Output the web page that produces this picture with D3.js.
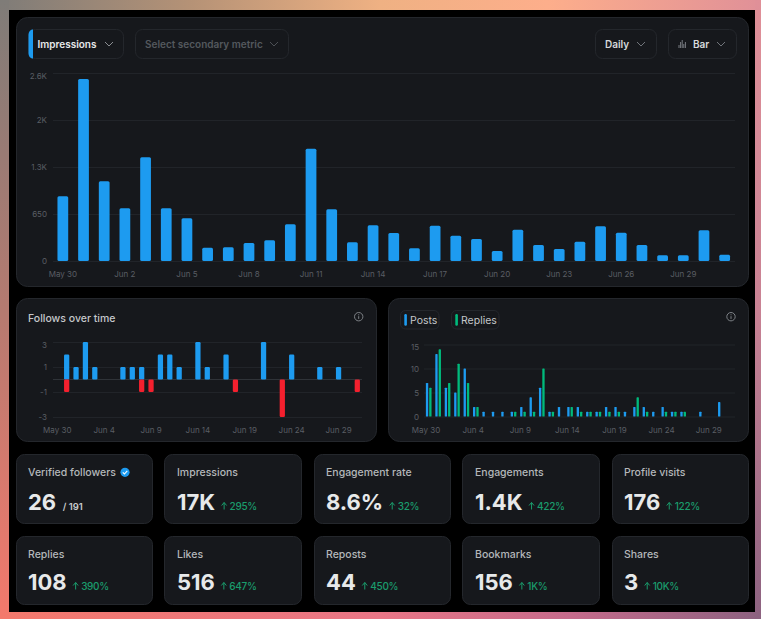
<!DOCTYPE html>
<html>
<head>
<meta charset="utf-8">
<script src="https://cdn.jsdelivr.net/npm/d3@7"></script>
<style>
  html, body { margin: 0; padding: 0; background: #000; overflow: hidden; }
  svg { display: block; font-family: Inter, "Noto Sans", sans-serif; }
</style>
</head>
<body>
<svg id="board" width="761" height="619"></svg>
<script>
// Daily impressions
const days = ["May 30","May 31","Jun 1","Jun 2","Jun 3","Jun 4","Jun 5","Jun 6","Jun 7","Jun 8","Jun 9","Jun 10","Jun 11","Jun 12","Jun 13","Jun 14","Jun 15","Jun 16","Jun 17","Jun 18","Jun 19","Jun 20","Jun 21","Jun 22","Jun 23","Jun 24","Jun 25","Jun 26","Jun 27","Jun 28","Jun 29","Jun 30","Jul 1"];
const impressions = [894,2517,1102,728,1434,728,590,184,189,249,286,507,1554,715,258,493,387,175,489,350,304,138,433,221,166,267,479,392,221,78,78,424,88];
const impressionTicks = [0,650,1300,1950,2600];
const impressionTickLabels = ["0","650","1.3K","2K","2.6K"];
const impressionDateTicks = ["May 30","Jun 2","Jun 5","Jun 8","Jun 11","Jun 14","Jun 17","Jun 20","Jun 23","Jun 26","Jun 29"];

// Follows gained and lost per day
const followsGained = [0,2,1,3,1,0,0,1,1,1,0,2,2,1,0,3,1,0,2,0,0,0,3,0,0,2,0,0,1,0,1,0,0];
const followsLost   = [0,-1,0,0,0,0,0,0,0,-1,-1,0,0,0,0,0,0,0,0,-1,0,0,0,0,-3,0,0,0,0,0,0,0,-1];
const followTicks = [-3,-1,1,3];

// Posts and replies per day
const posts   = [7,13,6,5,10,2,1,1,1,1,2,4,6,1,2,2,2,1,1,2,2,1,2,2,1,2,1,1,0,1,0,3,0];
const replies = [6,14,7,11,7,2,0,0,0,1,1,1,10,1,0,2,1,1,1,1,1,0,4,1,0,1,1,1,0,0,0,0,0];
const activityTicks = [0,5,10,15];
const sharedDateTicks = ["May 30","Jun 4","Jun 9","Jun 14","Jun 19","Jun 24","Jun 29"];

// Summary tiles
const tileLabels = ["Verified followers","Impressions","Engagement rate","Engagements","Profile visits","Replies","Likes","Reposts","Bookmarks","Shares"];
const tileValues = ["26","17K","8.6%","1.4K","176","108","516","44","156","3"];
const tileDeltas = [null,"295%","32%","422%","122%","390%","647%","450%","1K%","10K%"];

const BLUE = "#1d9bf0", GREEN = "#00ba7c", RED = "#f4202e";
const CARD = "#16181c", EDGE = "#24272c", GRID = "#212429", AXIS = "#5a5e64", DELTA = "#1a9c6c";

const svg = d3.select("#board");
const defs = svg.append("defs");

function ramp(id, x1, y1, x2, y2, stops) {
  const g = defs.append("linearGradient").attr("id", id)
    .attr("x1", x1).attr("y1", y1).attr("x2", x2).attr("y2", y2);
  stops.forEach(([o, c]) => g.append("stop").attr("offset", o).attr("stop-color", c));
}
ramp("frameTop", 0, 0, 1, 0, [[0, "#7f7c78"], [0.25, "#b59276"], [0.5, "#efb183"], [0.72, "#fdae8b"], [1, "#e09098"]]);
ramp("frameBottom", 0, 0, 1, 0, [[0, "#f4796c"], [0.5, "#e97686"], [0.75, "#c56b8b"], [1, "#8c6280"]]);
ramp("frameLeft", 0, 0, 0, 1, [[0, "#7f7c78"], [0.5, "#b57a70"], [1, "#f4796c"]]);
ramp("frameRight", 0, 0, 0, 1, [[0, "#e09098"], [0.5, "#c98294"], [1, "#8c6280"]]);

// Coloured frame around the black board
svg.append("rect").attr("width", 761).attr("height", 619).attr("fill", "#000");
svg.append("rect").attr("width", 761).attr("height", 10).attr("fill", "url(#frameTop)");
svg.append("rect").attr("y", 612).attr("width", 761).attr("height", 7).attr("fill", "url(#frameBottom)");
svg.append("rect").attr("width", 9).attr("height", 619).attr("fill", "url(#frameLeft)");
svg.append("rect").attr("x", 755).attr("width", 6).attr("height", 619).attr("fill", "url(#frameRight)");

function card(x0, y0, x1, y1, r) {
  svg.append("rect").attr("x", x0 + .5).attr("y", y0 + .5)
    .attr("width", x1 - x0 - 1).attr("height", y1 - y0 - 1).attr("rx", r)
    .attr("fill", CARD).attr("stroke", EDGE);
}

function chevron(cx, cy, color) {
  svg.append("path").attr("d", d3.line()([[cx - 4, cy - 2], [cx, cy + 2], [cx + 4, cy - 2]]))
    .attr("fill", "none").attr("stroke", color).attr("stroke-width", 1);
}

function button(x0, x1, label, textX, color, chevX, chevColor) {
  svg.append("rect").attr("x", x0 + .5).attr("y", 29.5).attr("width", x1 - x0 - 1).attr("height", 29).attr("rx", 7)
    .attr("fill", CARD).attr("stroke", EDGE);
  svg.append("text").attr("x", textX).attr("y", 47.5).attr("fill", color)
    .attr("font-size", 10).attr("font-weight", 600).text(label);
  chevron(chevX, 44, chevColor);
}

function infoIcon(cx, cy) {
  const g = svg.append("g").attr("fill", "none").attr("stroke", "#7d8186");
  g.append("circle").attr("cx", cx).attr("cy", cy).attr("r", 4.2);
  g.append("line").attr("x1", cx).attr("x2", cx).attr("y1", cy - .5).attr("y2", cy + 2.2);
  g.append("line").attr("x1", cx).attr("x2", cx).attr("y1", cy - 2.4).attr("y2", cy - 1.4);
}

// Shared axis drawing: gridlines from the y axis, bare labels on the x axis
function drawAxes(xScale, yScale, left, right, labelY, yTicks, yFormat, yLabelEnd, xTicks, xShift) {
  const yAxis = svg.append("g").attr("transform", `translate(${left},0)`)
    .call(d3.axisLeft(yScale).tickValues(yTicks).tickFormat(yFormat).tickSize(-(right - left)).tickPadding(left - yLabelEnd));
  yAxis.select(".domain").remove();
  yAxis.selectAll("line").attr("stroke", GRID);
  yAxis.selectAll("text").attr("fill", AXIS).attr("font-size", 8).attr("font-family", "Inter, sans-serif");
  const top = d3.max(yTicks);
  yAxis.selectAll(".tick").filter(d => d === top).select("text").attr("dy", "0.65em");

  const xAxis = svg.append("g").attr("transform", `translate(0,${labelY})`)
    .call(d3.axisBottom(xScale).tickValues(xTicks).tickSize(0).tickPadding(0));
  xAxis.select(".domain").remove();
  xAxis.selectAll("text").attr("fill", AXIS).attr("font-size", 8).attr("font-family", "Inter, sans-serif")
    .attr("dy", "0.35em").attr("dx", xShift);
}

// ---- Impressions chart ----
card(16, 17, 749, 287, 11);
button(28, 124, "Impressions", 37.5, "#e7e9ea", 109, "#8a8d91");
svg.append("path").attr("fill", BLUE)
  .attr("d", "M33 29.5V58.5C30 58.5 28.5 56 28.5 53V35C28.5 32 30 29.5 33 29.5Z");
button(135, 289, "Select secondary metric", 145, "#54585e", 274, "#4c5055");
button(595, 657, "Daily", 605, "#d6d9db", 641, "#70747a");
button(668, 737, "Bar", 693, "#d6d9db", 721, "#70747a");
// small bar glyph inside the chart type button
svg.append("g").attr("fill", "#777b80").selectAll("rect").data([3, 6, 8, 4, 6]).join("rect")
  .attr("x", (d, i) => 678.5 + i * 1.6).attr("y", d => 48 - d).attr("width", 1).attr("height", d => d);

const mainX = d3.scaleBand().domain(days).range([52.5, 735]).paddingInner(.48).paddingOuter(.24);
const mainY = d3.scaleLinear().domain([0, 2600]).range([261, 73]);
drawAxes(mainX, mainY, 53, 735, 274, impressionTicks,
  d => impressionTickLabels[impressionTicks.indexOf(d)], 47, impressionDateTicks, 0);
svg.append("g").selectAll("rect").data(impressions).join("rect")
  .attr("x", (d, i) => mainX(days[i]))
  .attr("y", d => mainY(d)).attr("width", mainX.bandwidth())
  .attr("height", d => mainY(0) - mainY(d)).attr("rx", 1.5).attr("fill", BLUE);

// ---- Follows over time ----
card(16, 298, 377, 442, 11);
svg.append("text").attr("x", 28).attr("y", 322).attr("fill", "#c4c7ca")
  .attr("font-size", 10.5).attr("font-weight", 500).text("Follows over time");
infoIcon(358.7, 316.7);

const followX = d3.scaleBand().domain(days).range([52.6, 362]).paddingInner(.44).paddingOuter(.22);
const followY = d3.scaleLinear().domain([-3, 3]).range([417, 342]);
drawAxes(followX, followY, 53, 362, 430, followTicks, d => d, 47, sharedDateTicks, 0);
svg.append("line").attr("x1", 53).attr("x2", 362).attr("y1", followY(0)).attr("y2", followY(0)).attr("stroke", "#2f3338");

// Empty days are dropped; the day stays on the datum for the x position
function signedBars(values, color) {
  svg.append("g").selectAll("rect")
    .data(values.map((v, i) => ({ v, day: days[i] })).filter(d => d.v !== 0))
    .join("rect")
    .attr("x", d => followX(d.day)).attr("width", followX.bandwidth())
    .attr("y", d => followY(Math.max(0, d.v)))
    .attr("height", d => Math.abs(followY(d.v) - followY(0)))
    .attr("rx", 1.2).attr("fill", color);
}
signedBars(followsGained, BLUE);
signedBars(followsLost, RED);

// ---- Posts and replies ----
card(388, 298, 749, 442, 11);
[["Posts", 400.5, 439, BLUE, 410], ["Replies", 451.5, 499, GREEN, 461]].forEach(([name, a, b, color, tx]) => {
  svg.append("rect").attr("x", a).attr("y", 310.5).attr("width", b - a).attr("height", 18.5).attr("rx", 5)
    .attr("fill", CARD).attr("stroke", EDGE);
  svg.append("rect").attr("x", a + 3.8).attr("y", 314).attr("width", 2.6).attr("height", 11.7).attr("rx", 1.2).attr("fill", color);
  svg.append("text").attr("x", tx).attr("y", 324).attr("fill", "#c4c7ca").attr("font-size", 10.5).text(name);
});
infoIcon(731, 316.7);

const activityX = d3.scaleBand().domain(days).range([424, 735]).paddingInner(.4).paddingOuter(.2);
const activitySub = d3.scaleBand().domain(["posts", "replies"]).range([0, activityX.bandwidth()]).paddingInner(.3);
const activityY = d3.scaleLinear().domain([0, 15]).range([416.5, 344.5]);
drawAxes(activityX, activityY, 424, 735, 430, activityTicks, d => d, 419, sharedDateTicks, -2.7);
[["posts", posts, BLUE], ["replies", replies, GREEN]].forEach(([key, vals, color]) => {
  svg.append("g").selectAll("rect")
    .data(vals.map((v, i) => ({ v, day: days[i] })).filter(d => d.v > 0))
    .join("rect")
    .attr("x", d => activityX(d.day) + activitySub(key)).attr("width", activitySub.bandwidth())
    .attr("y", d => activityY(d.v)).attr("height", d => activityY(0) - activityY(d.v))
    .attr("rx", .6).attr("fill", color);
});

// ---- Summary tiles ----
const tileColumns = [[16, 153, 28], [164, 302, 177], [314, 451, 326], [462, 600, 475], [612, 749, 624]];
const tileRows = [[454, 524, 476, 509.5], [536, 605, 557.5, 589.5]];
tileLabels.forEach((label, i) => {
  const [x0, x1, textX] = tileColumns[i % 5];
  const [y0, y1, labelY, valueY] = tileRows[Math.floor(i / 5)];
  card(x0, y0, x1, y1, 8);
  svg.append("text").attr("x", textX).attr("y", labelY).attr("fill", "#b4b7ba")
    .attr("font-size", 10.5).attr("font-weight", 500).text(label);
  const value = svg.append("text").attr("x", textX).attr("y", valueY).attr("fill", "#e7e9ea")
    .attr("font-size", 22).attr("font-weight", 700).text(tileValues[i]);
  const end = textX + value.node().getComputedTextLength() + 6.5;
  if (tileDeltas[i]) {
    svg.append("path").attr("fill", "none").attr("stroke", DELTA).attr("stroke-width", 1)
      .attr("d", `M${end + 2.5} ${valueY}V${valueY - 7}M${end} ${valueY - 4}L${end + 2.5} ${valueY - 7}L${end + 5} ${valueY - 4}`);
    svg.append("text").attr("x", end + 8).attr("y", valueY).attr("fill", DELTA)
      .attr("font-size", 10).attr("letter-spacing", -.3).attr("font-weight", 500).text(tileDeltas[i]);
  } else {
    svg.append("text").attr("x", end).attr("y", valueY).attr("fill", "#c9ccce")
      .attr("font-size", 9.5).attr("font-weight", 600).text("/ 191");
  }
});

// Verification badge next to the first tile's label
svg.append("circle").attr("cx", 125).attr("cy", 472.3).attr("r", 4.6).attr("fill", BLUE);
svg.append("path").attr("d", "M122.8 472.4L124.4 474L127.3 470.8").attr("fill", "none").attr("stroke", "#fff").attr("stroke-width", 1.1);
</script>
</body>
</html>
